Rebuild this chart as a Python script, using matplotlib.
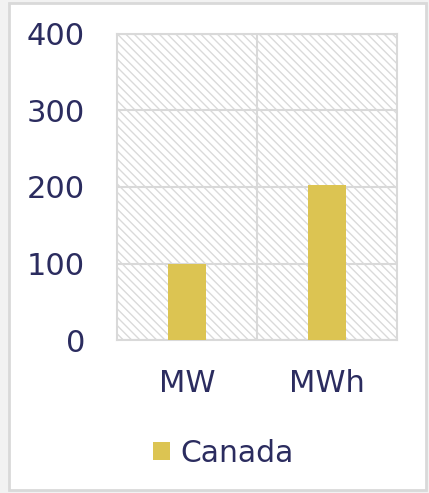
import numpy as np
import matplotlib.pyplot as plt
from matplotlib.patches import Rectangle

categories = ['MW', 'MWh']
canada = [100, 202]
yticks = [0, 100, 200, 300, 400]

txt = '#2b2c5f'
bar_color = '#dcc452'
grid_color = '#d9d9d9'

plt.rcParams['hatch.linewidth'] = 1.0

fig = plt.figure(figsize=(4.29, 4.93), dpi=100)
fig.patch.set_facecolor('#f2f2f2')
# white card with light border
card = Rectangle((9 / 429, 3 / 493), 417 / 429, 487 / 493, transform=fig.transFigure,
                 facecolor='white', edgecolor='#d9d9d9', linewidth=2, zorder=-10)
fig.add_artist(card)

ax = fig.add_axes([117 / 429, 153 / 493, 280 / 429, 306 / 493])
ax.set_facecolor('none')
x = np.arange(len(categories))
ax.add_patch(Rectangle((0, 0), 1, 1, transform=ax.transAxes, facecolor='white',
                       edgecolor='#dadada', linewidth=0, hatch='\\\\\\\\', zorder=0))
ax.bar(x, canada, width=0.27, color=bar_color, label='Canada', zorder=3)

ax.set_xlim(-0.5, 1.5)
ax.set_ylim(0, 400)
ax.set_yticks(yticks)
ax.set_yticklabels([str(v) for v in yticks])
ax.set_xticks(x)
ax.set_xticklabels(categories)
ax.set_xticks([0.5], minor=True)
ax.grid(axis='y', color=grid_color, linewidth=1.5, zorder=1)
ax.grid(axis='x', which='minor', color=grid_color, linewidth=1.5, zorder=1)
ax.set_axisbelow(False)
ax.tick_params(which='both', length=0, labelsize=22, colors=txt)
ax.tick_params(axis='y', pad=23)
ax.tick_params(axis='x', pad=21)
for s in ax.spines.values():
    s.set_color(grid_color)
    s.set_linewidth(1.5)

leg = ax.legend(loc='upper center', bbox_to_anchor=(0.38, -0.235), frameon=False,
                fontsize=21.5, handlelength=0.55, handleheight=0.55, handletextpad=0.35)
for t in leg.get_texts():
    t.set_color(txt)

fig.savefig('out.png', dpi=100, facecolor=fig.get_facecolor())
